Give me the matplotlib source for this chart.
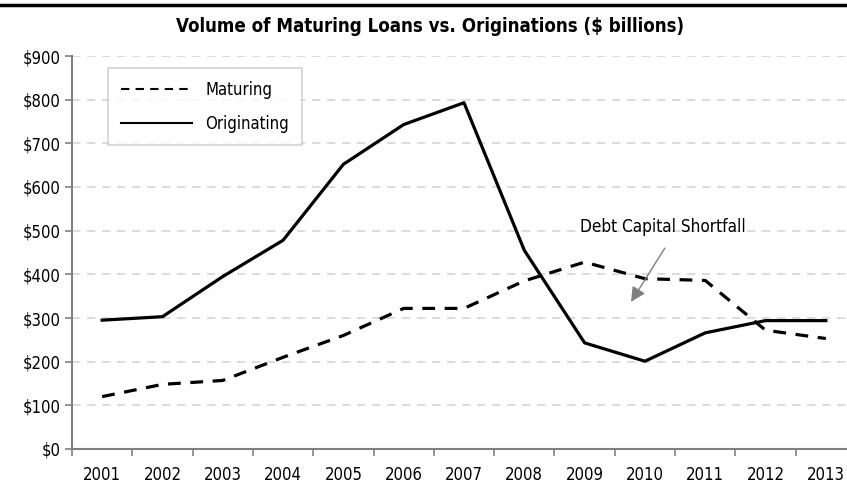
import matplotlib
matplotlib.use('Agg')
from matplotlib import pyplot as plt
from matplotlib.ticker import FuncFormatter

years = ['2001', '2002', '2003', '2004', '2005', '2006', '2007',
         '2008', '2009', '2010', '2011', '2012', '2013']
maturing = [120, 148, 157, 210, 260, 322, 322, 385, 428, 390, 386, 272, 253]
originating = [295, 303, 395, 478, 652, 743, 793, 455, 243, 201, 266, 294, 294]

plt.rcParams['font.family'] = ['DejaVu Sans']
plt.rcParams['font.stretch'] = 'condensed'

fig = plt.figure(figsize=(8.47, 4.95), dpi=100)
ax = fig.add_axes([72 / 847, 46 / 495, 784 / 847, 393 / 495])

x = list(range(len(years)))
ax.plot(x, maturing, color='black', lw=2.3, ls=(0, (4, 3)), label='Maturing')
ax.plot(x, originating, color='black', lw=2.3, label='Originating')

ax.set_xlim(-0.5, 12.5)
ax.set_ylim(0, 900)
ax.set_yticks(range(0, 901, 100))
ax.yaxis.set_major_formatter(FuncFormatter(lambda v, p: '${:,.0f}'.format(v)))
ax.set_xticks(x)
ax.set_xticklabels(years)
ax.set_xticks([i - 0.5 for i in range(14)], minor=True)
ax.tick_params(axis='x', which='major', length=0, pad=12, labelsize=12)
ax.tick_params(axis='x', which='minor', length=5, color='#808080', width=1.2, direction='out')
ax.tick_params(axis='y', length=5, color='#808080', width=1.2, labelsize=12, pad=3)

for v in range(100, 901, 100):
    ax.axhline(v, color='#d6d6d6', lw=1.2, ls=(0, (5, 4)), zorder=0)

for s in ['top', 'right']:
    ax.spines[s].set_visible(False)
for s in ['left', 'bottom']:
    ax.spines[s].set_color('#808080')
    ax.spines[s].set_linewidth(1.5)

leg = ax.legend(loc='upper left', bbox_to_anchor=(0.046, 0.969), fontsize=12,
                frameon=True, fancybox=False, handlelength=4.3, borderpad=0.75,
                labelspacing=0.95, handletextpad=0.8, borderaxespad=0)
leg.get_frame().set_edgecolor('#c8c8c8')
leg.get_frame().set_linewidth(1.2)
for h in leg.get_lines():
    h.set_linewidth(1.5)

ax.annotate('', xy=(8.77, 337), xytext=(9.33, 460),
            arrowprops=dict(arrowstyle='-|>', color='#808080', lw=1, mutation_scale=22,
                            shrinkA=0, shrinkB=0))
ax.text(9.3, 508, 'Debt Capital Shortfall', fontsize=12.3, ha='center', va='center')

fig.text(430 / 847, 1 - 26 / 495, 'Volume of Maturing Loans vs. Originations ($ billions)',
         ha='center', va='center', fontsize=13.4, fontweight='bold')
fig.add_artist(plt.Line2D([0, 1], [1 - 5 / 495, 1 - 5 / 495], color='black', lw=2.5))

fig.savefig('out.png', dpi=100)
